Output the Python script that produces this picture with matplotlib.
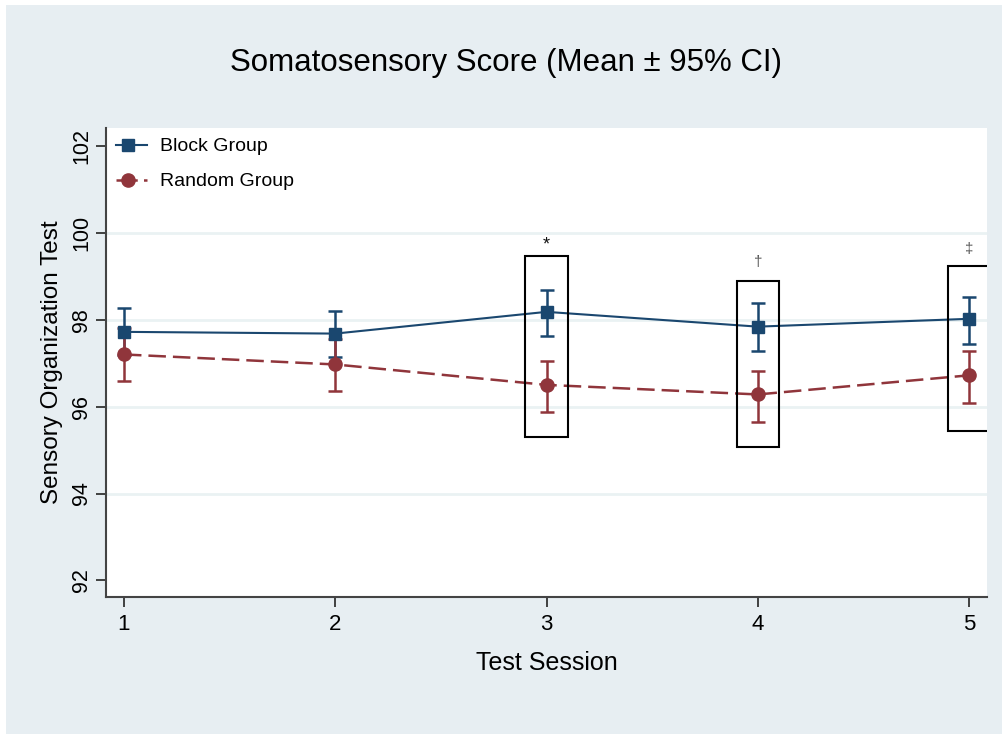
import matplotlib
matplotlib.use("Agg")
import matplotlib.pyplot as plt
from matplotlib.patches import Rectangle
from matplotlib.lines import Line2D
from matplotlib.legend_handler import HandlerLine2D

plt.rcParams['font.family'] = ['Liberation Sans', 'DejaVu Sans']

sessions = [1, 2, 3, 4, 5]
block_mean = [97.72, 97.68, 98.18, 97.84, 98.02]
block_lo = [97.18, 97.15, 97.62, 97.29, 97.45]
block_hi = [98.26, 98.20, 98.68, 98.38, 98.52]
random_mean = [97.20, 96.97, 96.50, 96.28, 96.72]
random_lo = [96.58, 96.36, 95.87, 95.64, 96.08]
random_hi = [97.80, 97.55, 97.05, 96.83, 97.27]

box_sessions = [3, 4, 5]
box_bottom = [95.29, 95.06, 95.45]
box_top = [99.47, 98.90, 99.24]
marks = ["*", "\u2020", "\u2021"]
mark_y = [99.72, 99.32, 99.62]

yticks = [92, 94, 96, 98, 100, 102]

BLUE = "#1a476f"
RED = "#90353b"
BG = "#e7eef2"


class HandlerLeftMarker(HandlerLine2D):
    def create_artists(self, legend, orig_handle, xdescent, ydescent,
                       width, height, fontsize, trans):
        x0 = -xdescent
        y = height / 2 - ydescent
        line = Line2D([x0, x0 + 0.38 * width, x0 + width], [y, y, y],
                      markevery=[1])
        self.update_prop(line, orig_handle, legend)
        line.set_transform(trans)
        return [line]


fig = plt.figure(figsize=(10.02, 7.34), dpi=100)
fig.patch.set_facecolor("white")
fig.patches.append(Rectangle((6/1002, 0), 1 - 6/1002, 1 - 5/734,
                             transform=fig.transFigure, facecolor=BG,
                             edgecolor="none", zorder=-10))

ax = fig.add_axes([106/1002, 1 - 597/734, (987-106)/1002, (597-128)/734])
ax.set_facecolor("white")

for y in [94, 96, 98, 100]:
    ax.axhline(y, color="#eaf2f3", lw=2, zorder=0)

def err(m, lo, hi):
    return [[a - b for a, b in zip(m, lo)], [c - a for a, c in zip(m, hi)]]

dash = (0, (7, 2.8))
ax.errorbar(sessions, block_mean, yerr=err(block_mean, block_lo, block_hi),
            color=BLUE, marker="s", markersize=9, lw=1.5, elinewidth=1.8,
            capsize=5, capthick=1.8, zorder=3)
ax.errorbar(sessions, random_mean, yerr=err(random_mean, random_lo, random_hi),
            color=RED, marker="o", markersize=9.5, lw=1.8, ls=dash,
            elinewidth=1.8, capsize=5, capthick=1.8, zorder=3)

for s, b, t, m, my in zip(box_sessions, box_bottom, box_top, marks, mark_y):
    ax.add_patch(Rectangle((s - 0.1, b), 0.2, t - b, fill=False,
                           edgecolor="black", lw=1.5, zorder=4))
    ax.text(s, my, m, ha="center", va="center",
            fontsize=13 if m == "*" else 11,
            color="#111111" if m == "*" else "#555555")

ax.set_xlim(0.915, 5.085)
ax.set_ylim(91.62, 102.41)
ax.set_xticks(sessions)
ax.set_yticks(yticks)
ax.set_yticklabels([str(v) for v in yticks], rotation=90, va="center")
ax.tick_params(axis="both", direction="out", length=7, width=1.3,
               colors="#333333", labelcolor="black")
ax.tick_params(axis="x", pad=5, labelsize=16)
ax.tick_params(axis="y", pad=3, labelsize=15.5)

for side in ["top", "right"]:
    ax.spines[side].set_visible(False)
for side in ["left", "bottom"]:
    ax.spines[side].set_color("#444444")
    ax.spines[side].set_linewidth(1.5)

ax.set_xlabel("Test Session", fontsize=18, labelpad=12)
ax.set_ylabel("Sensory Organization Test", fontsize=17.5, labelpad=6)

fig.text(0.505, 1 - 63/734, "Somatosensory Score (Mean \u00b1 95% CI)",
         ha="center", va="center", fontsize=22.5)

h_block = Line2D([], [], color=BLUE, marker="s", markersize=9, lw=1.5)
h_random = Line2D([], [], color=RED, marker="o", markersize=9.5, lw=1.8,
                  ls=(0, (3, 2.5)))
ax.legend([h_block, h_random], ["Block Group", "Random Group"],
          loc="upper left", frameon=False, fontsize=14,
          handlelength=1.6, handletextpad=0.7, labelspacing=0.9,
          borderaxespad=0.1, bbox_to_anchor=(0.0, 1.0),
          handler_map={Line2D: HandlerLeftMarker()})

fig.savefig("out.png", dpi=100, facecolor=fig.get_facecolor())
